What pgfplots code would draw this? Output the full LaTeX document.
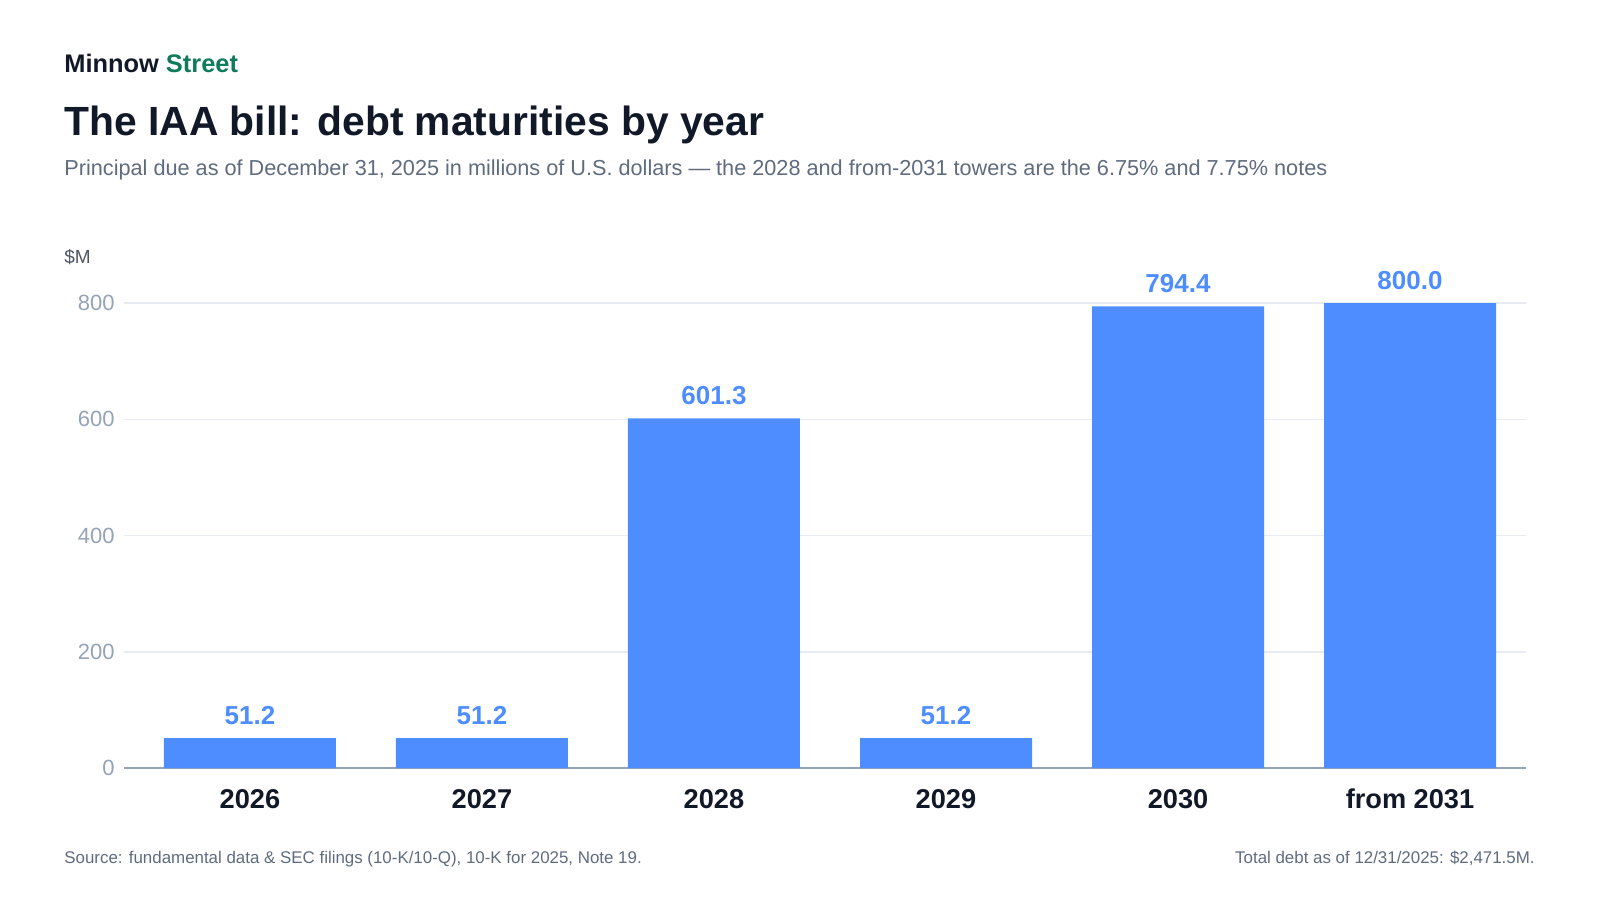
\documentclass[border=0pt]{standalone}
\usepackage{pgfplots}
\pgfplotsset{compat=1.18}
\usepackage{fontspec}
\setmainfont{Liberation Sans}
\definecolor{ink}{HTML}{111827}
\definecolor{brandgreen}{HTML}{0F7B5B}
\definecolor{subgray}{HTML}{5F6B7E}
\definecolor{tickgray}{HTML}{94A3B8}
\definecolor{gridgray}{HTML}{E8ECF2}
\definecolor{barblue}{HTML}{4D8DFF}
\definecolor{unitgray}{HTML}{4B5563}
\begin{document}
\begin{tikzpicture}
\path[use as bounding box] (0,0) rectangle (800pt,450pt);
\node[anchor=base west, inner sep=0, text=ink, font=\fontsize{12.7pt}{14pt}\selectfont\bfseries] at (32pt,413.75pt) {Minnow \textcolor{brandgreen}{Street}};
\node[anchor=base west, inner sep=0, text=ink, font=\fontsize{20.4pt}{24pt}\selectfont\bfseries] at (32pt,382.15pt) {The IAA bill: debt maturities by year};
\node[anchor=base west, inner sep=0, text=subgray, font=\fontsize{10.84pt}{12pt}\selectfont] at (32pt,362.25pt) {Principal due as of December 31, 2025 in millions of U.S. dollars — the 2028 and from-2031 towers are the 6.75\% and 7.75\% notes};
\node[anchor=base west, inner sep=0, text=unitgray, font=\fontsize{9.5pt}{11pt}\selectfont] at (32pt,318pt) {\$M};
\node[anchor=base west, inner sep=0, text=subgray, font=\fontsize{8.45pt}{10pt}\selectfont] at (32pt,18.5pt) {Source: fundamental data \& SEC filings (10-K/10-Q), 10-K for 2025, Note 19.};
\node[anchor=base east, inner sep=0, text=subgray, font=\fontsize{8.45pt}{10pt}\selectfont] at (767.5pt,18.5pt) {Total debt as of 12/31/2025: \$2,471.5M.};
\begin{axis}[
  at={(62pt,66pt)}, anchor=south west,
  scale only axis, width=701pt, height=232.5pt,
  xmin=-0.543, xmax=5.5, ymin=0, ymax=800,
  clip=false,
  /pgf/number format/assume math mode=true,
  axis x line*=bottom, axis y line*=left,
  x axis line style={draw=tickgray, line width=1pt},
  y axis line style={draw=none},
  ytick={0,200,400,600,800},
  ymajorgrids, grid style={draw=gridgray, line width=0.75pt},
  xtick={0,1,2,3,4,5},
  xticklabels={2026,2027,2028,2029,2030,from 2031},
  major tick length=0pt,
  xticklabel style={anchor=base, yshift=-20pt, inner sep=0pt, text=ink, font=\fontsize{13.6pt}{16pt}\selectfont\bfseries},
  yticklabel style={anchor=east, inner sep=0pt, xshift=-4.5pt, text=tickgray, font=\fontsize{11pt}{13pt}\selectfont},
  ybar, bar width=86pt,
  nodes near coords,
  point meta=explicit symbolic,
  nodes near coords style={anchor=base, yshift=7pt, inner sep=0pt, text=barblue, font=\fontsize{13pt}{15pt}\selectfont\bfseries},
]
\addplot[fill=barblue, draw=none] table[meta=lab] {
x y lab
0 51.2 51.2
1 51.2 51.2
2 601.3 601.3
3 51.2 51.2
4 794.4 794.4
5 800.0 800.0
};
\end{axis}
\end{tikzpicture}
\end{document}
